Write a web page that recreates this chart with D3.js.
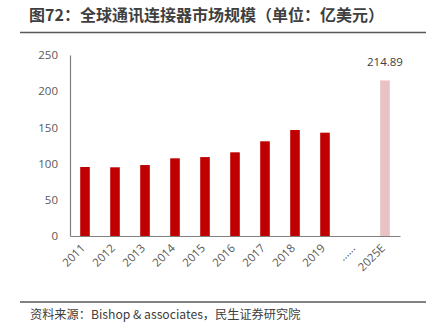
<!DOCTYPE html>
<html>
<head>
<meta charset="utf-8">
<script src="https://cdn.jsdelivr.net/npm/d3@7"></script>
<style>
  html, body { margin: 0; padding: 0; background: #fff; }
  svg { display: block; }
</style>
</head>
<body>
<svg id="chart" width="438" height="330"></svg>
<script>
// Global communication connector market size (100M USD)
const categories = ["2011", "2012", "2013", "2014", "2015", "2016", "2017", "2018", "2019", "……", "2025E"];
const values = [95.3, 94.9, 98.0, 107.3, 109.0, 115.6, 130.8, 146.4, 142.7, null, 214.89];
const forecast = [false, false, false, false, false, false, false, false, false, false, true];
const yTicks = [0, 50, 100, 150, 200, 250];
const labelled = ["2025E"];

const title = "图72：全球通讯连接器市场规模（单位：亿美元）";
const source = "资料来源：Bishop & associates，民生证券研究院";

const svg = d3.select("#chart");
const cjk = "'Noto Sans CJK SC', 'Noto Sans', sans-serif";
const num = "'Open Sans', 'Noto Sans', sans-serif";

// header
svg.append("text")
  .attr("x", 29).attr("y", 20.5)
  .attr("font-family", cjk).attr("font-size", 16).attr("font-weight", "bold")
  .attr("fill", "#3f3f3f")
  .text(title);
svg.append("line")
  .attr("x1", 20).attr("x2", 426).attr("y1", 32.5).attr("y2", 32.5)
  .attr("stroke", "#595959").attr("stroke-width", 1.5);

// footer
svg.append("line")
  .attr("x1", 20).attr("x2", 426).attr("y1", 302).attr("y2", 302)
  .attr("stroke", "#595959").attr("stroke-width", 1.5);
svg.append("text")
  .attr("x", 30).attr("y", 319)
  .attr("font-family", cjk).attr("font-size", 12.2)
  .attr("fill", "#404040")
  .text(source);

// plot area
const plot = { left: 70, right: 400, top: 55, bottom: 236 };

const x = d3.scaleBand().domain(categories).range([plot.left, plot.right]).paddingInner(0.68).paddingOuter(0.34);
const y = d3.scaleLinear().domain([0, 250]).range([plot.bottom, plot.top]);

// y axis
const yAxis = svg.append("g")
  .attr("transform", `translate(${plot.left},0)`)
  .call(d3.axisLeft(y).tickValues(yTicks).tickSize(0).tickPadding(12));
yAxis.select(".domain").attr("stroke", "#808080").attr("stroke-width", 1.2);
yAxis.selectAll("text").attr("font-family", num).attr("font-size", 11.5).attr("fill", "#595959");

// bars
svg.append("g").selectAll("rect")
  .data(categories.map((c, i) => ({ c, v: values[i], f: forecast[i] })).filter(d => d.v != null))
  .join("rect")
  .attr("x", d => x(d.c))
  .attr("width", x.bandwidth())
  .attr("y", d => y(d.v))
  .attr("height", d => y(0) - y(d.v))
  .attr("fill", d => d.f ? "#E9C3C3" : "#C00000");

// value labels
svg.append("g").selectAll("text")
  .data(categories.map((c, i) => ({ c, v: values[i] })).filter(d => labelled.includes(d.c)))
  .join("text")
  .attr("x", d => x(d.c) + x.bandwidth() / 2)
  .attr("y", d => y(d.v) - 14)
  .attr("text-anchor", "middle")
  .attr("font-family", num).attr("font-size", 11.5).attr("fill", "#404040")
  .text(d => d3.format(".2f")(d.v));

// x axis
const xAxis = svg.append("g")
  .attr("transform", `translate(0,${plot.bottom})`)
  .call(d3.axisBottom(x).tickSize(0).tickPadding(0));
xAxis.select(".domain").attr("stroke", "#808080").attr("stroke-width", 1.2);
xAxis.selectAll("text")
  .attr("font-family", num).attr("font-size", 11.5).attr("fill", "#595959")
  .attr("text-anchor", "end")
  .attr("dy", "0.35em")
  .attr("transform", "translate(-2,10) rotate(-45)");
</script>
</body>
</html>
